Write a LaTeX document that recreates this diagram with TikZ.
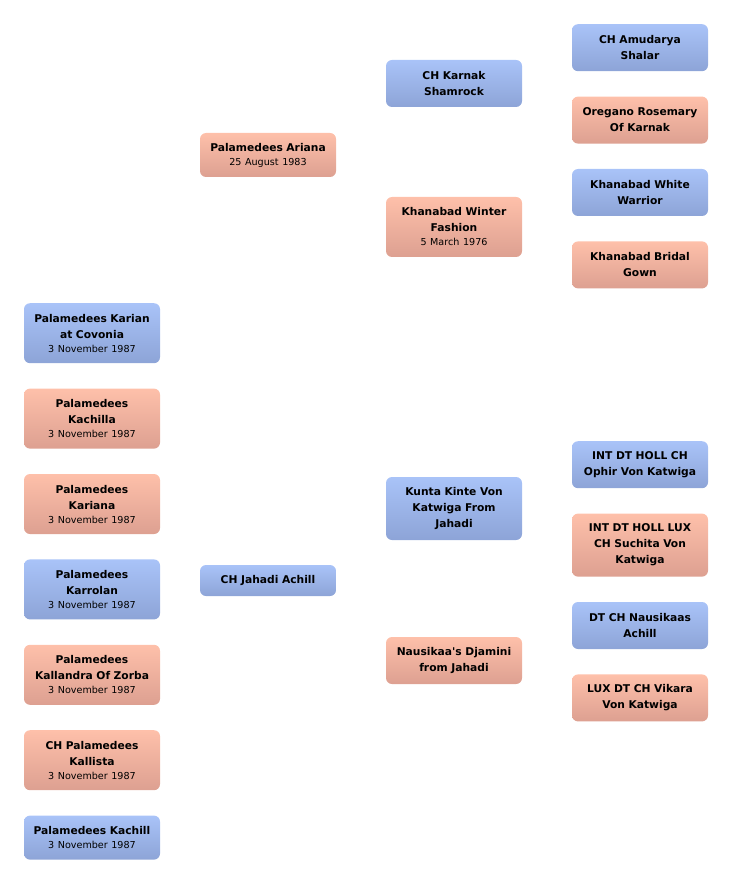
\documentclass[tikz,border=0pt]{standalone}
\usepackage{fontspec}
\setmainfont{DejaVu Sans}
\usetikzlibrary{positioning}
\definecolor{sireTop}{HTML}{A9C3F8}
\definecolor{sireBot}{HTML}{8DA4D7}
\definecolor{damTop}{HTML}{FEC0AA}
\definecolor{damBot}{HTML}{DDA091}
\tikzset{dog/.style={rounded corners=6pt,minimum width=136pt,text width=128pt,align=center,inner xsep=4pt,inner ysep=2pt,font=\fontsize{10.7}{16}\selectfont\bfseries},
         sire/.style={dog,top color=sireTop,bottom color=sireBot},
         dam/.style={dog,top color=damTop,bottom color=damBot},}
\newcommand{\born}[1]{\\[-2pt]{\fontsize{9.6}{12}\selectfont\mdseries #1}}

\begin{document}
\begin{tikzpicture}[x=1pt,y=1pt,node distance=25pt]
    \useasboundingbox (0,0) rectangle (732,-882);
    % litter
    \node[sire,minimum height=60pt,anchor=north] (karian) at (92,-303) {Palamedees Karian\\at Covonia\born{3 November 1987}};
    \node[dam,minimum height=60pt] (kachilla) [below = of karian] {Palamedees\\Kachilla\born{3 November 1987}};
    \node[dam,minimum height=60pt] (kariana) [below = of kachilla] {Palamedees\\Kariana\born{3 November 1987}};
    \node[sire,minimum height=60pt] (karrolan) [below = of kariana] {Palamedees\\Karrolan\born{3 November 1987}};
    \node[dam,minimum height=60pt] (kallandra) [below = of karrolan] {Palamedees\\Kallandra Of Zorba\born{3 November 1987}};
    \node[dam,minimum height=60pt] (kallista) [below = of kallandra] {CH Palamedees\\Kallista\born{3 November 1987}};
    \node[sire,minimum height=44pt] (kachill) [below = of kallista] {Palamedees Kachill\born{3 November 1987}};
    % parents
    \node[dam,minimum height=44pt] (ariana) at (268,-155) {Palamedees Ariana\born{25 August 1983}};
    \node[sire,minimum height=31pt] (achill) at (268,-580.5) {CH Jahadi Achill};
    % grandparents
    \node[sire,minimum height=47pt] (karnak) at (454,-83.5) {CH Karnak\\Shamrock};
    \node[dam,minimum height=60pt] (winter) at (454,-227) {Khanabad Winter\\Fashion\born{5 March 1976}};
    \node[sire,minimum height=63pt] (kunta) at (454,-508.5) {Kunta Kinte Von\\Katwiga From\\Jahadi};
    \node[dam,minimum height=47pt] (djamini) at (454,-660.5) {Nausikaa\textquotesingle s Djamini\\from Jahadi};
    % great-grandparents
    \node[sire,minimum height=47pt,anchor=north] (amudarya) at (640,-24) {CH Amudarya\\Shalar};
    \node[dam,minimum height=47pt] (oregano) [below = of amudarya] {Oregano Rosemary\\Of Karnak};
    \node[sire,minimum height=47pt] (whitewarrior) [below = of oregano] {Khanabad White\\Warrior};
    \node[dam,minimum height=47pt] (bridal) [below = of whitewarrior] {Khanabad Bridal\\Gown};
    \node[sire,minimum height=47pt,anchor=north] (ophir) at (640,-441) {INT DT HOLL CH\\Ophir Von Katwiga};
    \node[dam,minimum height=63pt] (suchita) [below = of ophir] {INT DT HOLL LUX\\CH Suchita Von\\Katwiga};
    \node[sire,minimum height=47pt] (nausikaas) [below = of suchita] {DT CH Nausikaas\\Achill};
    \node[dam,minimum height=47pt] (vikara) [below = of nausikaas] {LUX DT CH Vikara\\Von Katwiga};
\end{tikzpicture}
\end{document}
